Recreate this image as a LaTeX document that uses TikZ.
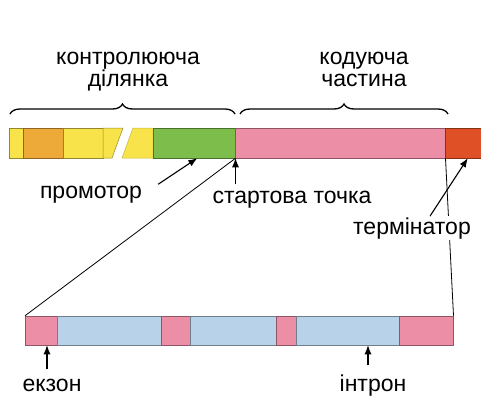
\documentclass[tikz,border=0pt]{standalone}
\usepackage{fontspec}
\setmainfont{Liberation Sans}
\usetikzlibrary{arrows.meta,calc,decorations.pathreplacing}

\definecolor{yel}{HTML}{F8E34A}
\definecolor{org}{HTML}{EEAA38}
\definecolor{grn}{HTML}{7DBD4C}
\definecolor{pnk}{HTML}{EC8FA6}
\definecolor{rd}{HTML}{E05026}
\definecolor{blu}{HTML}{B8D2EA}

\tikzset{
  seg/.style={draw=#1!60!black, fill=#1, line width=0.5pt, inner sep=0pt,
    minimum height=30pt, anchor=west},
  lbl/.style={fill=white, inner sep=1pt, anchor=base},
  arr/.style={-{Latex[length=9pt,width=7pt]}, line width=1.1pt},
  brc/.style={decorate, decoration={brace, amplitude=10pt}, line width=1.3pt}
}

\begin{document}
\begin{tikzpicture}[x=1pt,y=-1pt,font=\fontsize{23}{22}\selectfont]
    \useasboundingbox (0,0) rectangle (481,397);

    %gene (top bar)
    \node[seg=yel, minimum width=14pt] (y1) at (9,143) {};
    \node[seg=org, minimum width=40pt] (box) at (23,143) {};
    \node[seg=yel, minimum width=40pt] (y2) at (63,143) {};
    \filldraw[fill=yel, draw=yel!60!black, line width=0.5pt] (103,128) -- (123,128) -- (112,158) -- (103,158) -- cycle;
    \filldraw[fill=yel, draw=yel!80!black, line width=0.5pt] (133,128) -- (153,128) -- (153,158) -- (122,158) -- cycle;
    \node[seg=grn, minimum width=82pt] (prom) at (153,143) {};
    \node[seg=pnk, minimum width=210pt] (code) at (235,143) {};
    \node[seg=rd, minimum width=45pt] (term) at (445,143) {};

    %braces
    \draw[brc] (10,114) -- (235,114);
    \draw[brc] (240,114) -- (448,114);
    \node[align=center, anchor=base] (ctrl) at (128,86) {контролююча\\ділянка};
    \node[align=center, anchor=base] (codlbl) at (364,86) {кодуюча\\частина};

    %exons and introns (bottom bar)
    \node[seg=pnk, minimum width=32pt, minimum height=29pt] (ex1) at (25,330.5) {};
    \node[seg=blu, minimum width=104pt, minimum height=29pt] (in1) at (57,330.5) {};
    \node[seg=pnk, minimum width=29pt, minimum height=29pt] (ex2) at (161,330.5) {};
    \node[seg=blu, minimum width=86pt, minimum height=29pt] (in2) at (190,330.5) {};
    \node[seg=pnk, minimum width=20pt, minimum height=29pt] (ex3) at (276,330.5) {};
    \node[seg=blu, minimum width=103pt, minimum height=29pt] (in3) at (296,330.5) {};
    \node[seg=pnk, minimum width=54pt, minimum height=29pt] (ex4) at (399,330.5) {};

    %zoom lines
    \draw[line width=0.8pt] (prom.south east) -- (ex1.north west);
    \draw[line width=0.8pt] (code.south east) -- (ex4.north east);

    %labels
    \node[lbl] (promlbl) at (91,198) {промотор};
    \node[lbl] (startlbl) at (292,203) {стартова точка};
    \node[lbl] (termlbl) at (412,234) {термінатор};
    \node[lbl] (exlbl) at (52,391) {екзон};
    \node[lbl] (inlbl) at (373,391) {інтрон};

    %arrows
    \draw[arr] ($(promlbl.east)+(15,-10)$) -- ([xshift=3pt]prom.south);
    \draw[arr] ([yshift=5pt]startlbl.north -| prom.south east) -- (prom.south east);
    \draw[arr] ([xshift=18pt]termlbl.north) -- (term.south);
    \draw[arr] ([xshift=-5pt,yshift=8pt]exlbl.north) -- ([xshift=-5pt]exlbl.north |- ex1.south);
    \draw[arr] ([xshift=-5pt,yshift=8pt]inlbl.north) -- ([xshift=-5pt]inlbl.north |- in3.south);
\end{tikzpicture}
\end{document}
